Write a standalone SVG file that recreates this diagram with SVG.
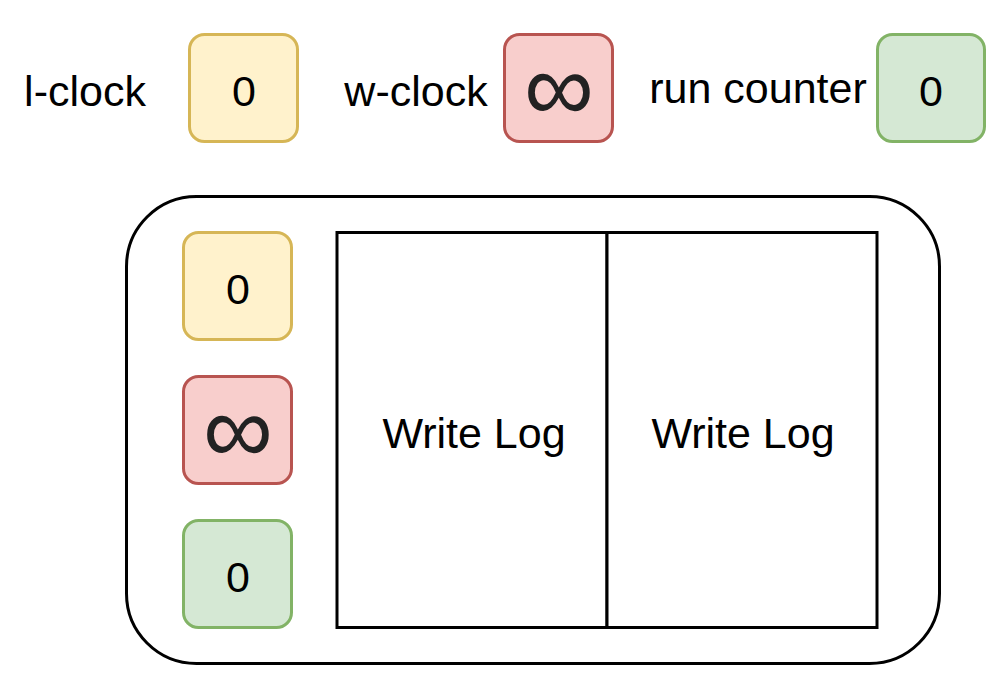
<svg xmlns="http://www.w3.org/2000/svg" width="999" height="679" viewBox="0 0 999 679">
<style>
text{font-family:"Liberation Sans",Arial,sans-serif;font-size:43px;fill:#000}
.c{text-anchor:middle}
.inf{font-family:"Liberation Sans",Arial,sans-serif;font-size:98px;fill:#222;text-anchor:middle}
.y{fill:#fff2cc;stroke:#d6b656;stroke-width:3}
.r{fill:#f8cecc;stroke:#b85450;stroke-width:3}
.g{fill:#d5e8d4;stroke:#82b366;stroke-width:3}
.b{fill:#fff;stroke:#000;stroke-width:3}
</style>
<rect width="999" height="679" fill="#fff"/>
<g id="lclock-label"><text x="85" y="106" class="c">l-clock</text></g>
<g id="lclock"><rect class="y" x="189.5" y="34.5" width="108" height="107" rx="15"/><text x="244" y="106" class="c">0</text></g>
<g id="wclock-label"><text x="416" y="106" class="c">w-clock</text></g>
<g id="wclock"><rect class="r" x="504.5" y="34.5" width="108" height="107" rx="15"/><text x="559" y="121" class="inf">∞</text></g>
<g id="run-label"><text x="758" y="103" class="c">run counter</text></g>
<g id="run"><rect class="g" x="877.5" y="34.5" width="107" height="107" rx="15"/><text x="931" y="106" class="c">0</text></g>
<g id="container"><rect class="b" x="126.5" y="196.5" width="813" height="467" rx="70"/></g>
<g id="in-lclock"><rect class="y" x="183.5" y="232.5" width="108" height="107" rx="15"/><text x="238" y="304" class="c">0</text></g>
<g id="in-wclock"><rect class="r" x="183.5" y="376.5" width="108" height="107" rx="15"/><text x="238" y="463" class="inf">∞</text></g>
<g id="in-run"><rect class="g" x="183.5" y="520.5" width="108" height="107" rx="15"/><text x="238" y="592" class="c">0</text></g>
<g id="log1"><rect class="b" x="337" y="232.5" width="270" height="395"/><text x="474" y="448" class="c">Write Log</text></g>
<g id="log2"><rect class="b" x="607" y="232.5" width="270" height="395"/><text x="743" y="448" class="c">Write Log</text></g>
<g id="connectors"></g>
</svg>
